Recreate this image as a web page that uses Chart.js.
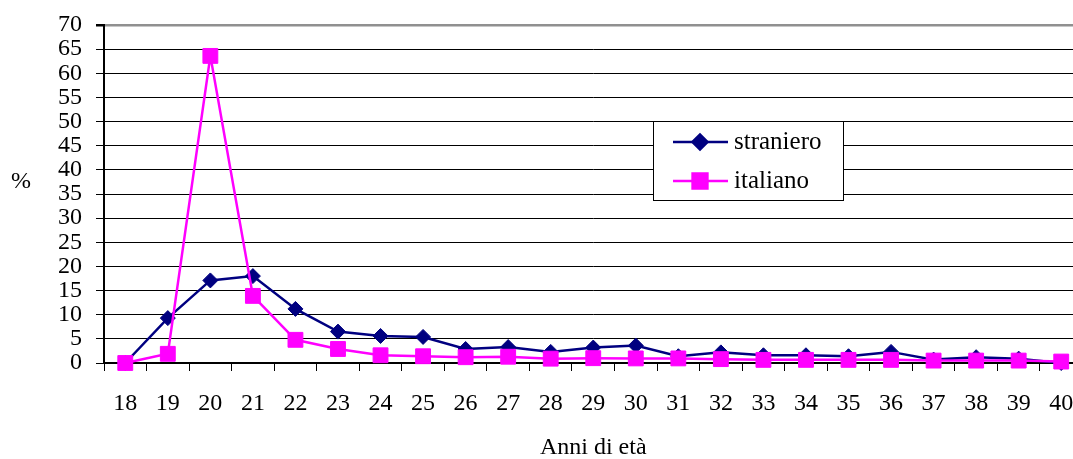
<!DOCTYPE html>
<html lang="it">
<head>
<meta charset="utf-8">
<title>Anni di età</title>
<script src="https://cdn.jsdelivr.net/npm/chart.js@4.4.0/dist/chart.umd.min.js"></script>
<style>
  html, body { margin: 0; padding: 0; background: #fff; overflow: hidden; }
  /* il grafico originale è tagliato a destra: canvas più largo, riquadro 1073 */
  #wrap { width: 1073px; height: 459px; overflow: hidden; }
</style>
</head>
<body>
<div id="wrap"><canvas id="etaChart" width="1094" height="459"></canvas></div>
<script>
// Dati
const anni = ['18', '19', '20', '21', '22', '23', '24', '25', '26', '27', '28', '29',
              '30', '31', '32', '33', '34', '35', '36', '37', '38', '39', '40'];
const straniero = [0, 9.3, 17.1, 18.0, 11.2, 6.5, 5.6, 5.4, 2.9, 3.3, 2.3, 3.2,
                   3.6, 1.4, 2.2, 1.6, 1.6, 1.4, 2.3, 0.7, 1.2, 0.9, 0];
const italiano = [0, 1.9, 63.6, 13.9, 4.8, 2.9, 1.6, 1.4, 1.2, 1.3, 0.9, 1.0,
                  0.95, 0.95, 0.8, 0.65, 0.65, 0.65, 0.65, 0.5, 0.5, 0.5, 0.3];
const yMin = 0, yMax = 70, yStep = 5;

const FONT = 'Liberation Serif, Times New Roman, serif';
const NAVY = '#000080';
const MAGENTA = '#ff00ff';

// legenda nel riquadro + etichetta "%"
const boxLegend = {
    id: 'boxLegend',
    afterDraw(chart) {
        const ctx = chart.ctx;
        const ca = chart.chartArea;
        const x = ca.left + 549, y = ca.top + 96, w = 190, h = 79;

        ctx.save();
        ctx.fillStyle = '#fff';
        ctx.fillRect(x, y, w, h);
        ctx.strokeStyle = '#000';
        ctx.lineWidth = 1;
        ctx.strokeRect(x + 0.5, y + 0.5, w, h);

        const rows = [
            { label: 'straniero', color: NAVY, style: 'rectRot', r: 7.5, dy: 21 },
            { label: 'italiano', color: MAGENTA, style: 'rect', r: 10.5, dy: 60 }
        ];
        rows.forEach(row => {
            const cy = y + row.dy;
            ctx.strokeStyle = row.color;
            ctx.lineWidth = 2.5;
            ctx.beginPath();
            ctx.moveTo(x + 20, cy);
            ctx.lineTo(x + 75, cy);
            ctx.stroke();
            ctx.fillStyle = row.color;
            Chart.helpers.drawPoint(ctx, { pointStyle: row.style, radius: row.r, borderWidth: 1 }, x + 47, cy);
            ctx.fillStyle = '#000';
            ctx.font = '25px ' + FONT;
            ctx.textAlign = 'left';
            ctx.textBaseline = 'middle';
            ctx.fillText(row.label, x + 81, cy);
        });

        ctx.font = '24px ' + FONT;
        ctx.textAlign = 'center';
        ctx.textBaseline = 'middle';
        ctx.fillText('%', 21, 182);
        ctx.restore();
    }
};

const ctx = document.getElementById('etaChart').getContext('2d');
new Chart(ctx, {
    type: 'line',
    data: {
        labels: anni,
        datasets: [
            {
                label: 'straniero',
                data: straniero,
                borderColor: NAVY,
                backgroundColor: NAVY,
                borderWidth: 2.5,
                pointStyle: 'rectRot',
                pointRadius: 7.5,
                pointBorderWidth: 1,
                tension: 0,
                clip: false,
                order: 1
            },
            {
                label: 'italiano',
                data: italiano,
                borderColor: MAGENTA,
                backgroundColor: MAGENTA,
                borderWidth: 2.5,
                pointStyle: 'rect',
                pointRadius: 10.5,
                pointBorderWidth: 1,
                tension: 0,
                clip: false,
                order: 0
            }
        ]
    },
    options: {
        responsive: false,
        animation: false,
        layout: { padding: { top: 25, right: 0, left: 0, bottom: 0 } },
        scales: {
            x: {
                offset: true,
                grid: {
                    offset: true,
                    drawOnChartArea: false,
                    tickLength: 8,
                    tickColor: '#000',
                    tickWidth: 1
                },
                border: { color: '#000', width: 2 },
                ticks: {
                    color: '#000',
                    font: { family: FONT, size: 24 },
                    padding: 18,
                    maxRotation: 0,
                    autoSkip: false
                },
                title: {
                    display: true,
                    text: 'Anni di età',
                    color: '#000',
                    font: { family: FONT, size: 24 },
                    padding: { top: 0, bottom: -3 }
                },
                afterFit(scale) { scale.height = 96; }
            },
            y: {
                min: yMin,
                max: yMax,
                grid: {
                    color: c => c.tick && c.tick.value === yMax ? '#909090' : '#000',
                    lineWidth: c => c.tick && c.tick.value === yMax ? 2.5 : 1,
                    tickLength: 8,
                    tickColor: '#000'
                },
                border: { color: '#000', width: 2 },
                ticks: {
                    stepSize: yStep,
                    autoSkip: false,
                    color: '#000',
                    font: { family: FONT, size: 24, lineHeight: 0.8 },
                    padding: 14
                },
                afterFit(scale) { scale.width = 104; }
            }
        },
        plugins: {
            legend: { display: false },
            tooltip: { enabled: false }
        }
    },
    plugins: [boxLegend]
});
</script>
</body>
</html>
